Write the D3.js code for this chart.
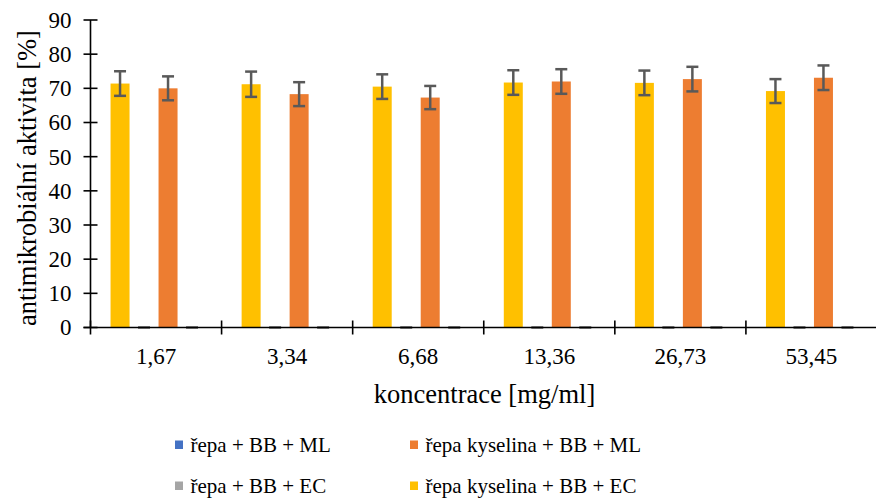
<!DOCTYPE html>
<html>
<head>
<meta charset="utf-8">
<script src="https://cdn.jsdelivr.net/npm/d3@7"></script>
<style>
  html, body { margin: 0; padding: 0; background: #fff; }
  svg text { font-family: "Liberation Serif", "Times New Roman", Times, Tinos, "DejaVu Serif", serif; }
</style>
</head>
<body>
<svg id="chart" width="876" height="499" style="display:block"></svg>
<script>
// Concentrations on the x axis
const categories = ["1,67", "3,34", "6,68", "13,36", "26,73", "53,45"];

// Series names (bar order inside each group)
const seriesNames = [
  "řepa kyselina + BB + EC",
  "řepa + BB + ML",
  "řepa kyselina + BB + ML",
  "řepa + BB + EC"
];

// Legend order (row by row, two columns)
const legendOrder = [
  "řepa + BB + ML",
  "řepa kyselina + BB + ML",
  "řepa + BB + EC",
  "řepa kyselina + BB + EC"
];

// Mean antimicrobial activity [%]
const kyselinaEC = [71.4, 71.2, 70.5, 71.7, 71.6, 69.2];
const repaML     = [0, 0, 0, 0, 0, 0];
const kyselinaML = [70.0, 68.3, 67.3, 72.0, 72.7, 73.1];
const repaEC     = [0, 0, 0, 0, 0, 0];

// Standard deviations
const kyselinaECErr = [3.6, 3.7, 3.6, 3.6, 3.6, 3.5];
const repaMLErr     = [0, 0, 0, 0, 0, 0];
const kyselinaMLErr = [3.5, 3.5, 3.4, 3.6, 3.6, 3.6];
const repaECErr     = [0, 0, 0, 0, 0, 0];

const yTicks = [0, 10, 20, 30, 40, 50, 60, 70, 80, 90];

const colors = {
  "řepa + BB + ML": "#4472C4",
  "řepa kyselina + BB + ML": "#ED7D31",
  "řepa + BB + EC": "#A5A5A5",
  "řepa kyselina + BB + EC": "#FFC000"
};

const values = {
  "řepa kyselina + BB + EC": kyselinaEC,
  "řepa + BB + ML": repaML,
  "řepa kyselina + BB + ML": kyselinaML,
  "řepa + BB + EC": repaEC
};
const errors = {
  "řepa kyselina + BB + EC": kyselinaECErr,
  "řepa + BB + ML": repaMLErr,
  "řepa kyselina + BB + ML": kyselinaMLErr,
  "řepa + BB + EC": repaECErr
};

const svg = d3.select("#chart");

const plotLeft = 90.5, plotRight = 877, plotTop = 20, plotBottom = 327.5;

const x0 = d3.scaleBand().domain(categories).range([plotLeft, plotRight]).padding(0);
const bw = x0.bandwidth();
const slot = 24, barW = 19;
const x1 = d3.scaleBand().domain(seriesNames)
  .range([bw / 2 - slot * 2, bw / 2 + slot * 2]).padding(0);
const y = d3.scaleLinear().domain([0, 90]).range([plotBottom, plotTop]);

// Flattened records
const records = [];
categories.forEach((c, i) => {
  seriesNames.forEach(s => {
    records.push({ cat: c, series: s, value: values[s][i], err: errors[s][i] });
  });
});

// Bars
svg.append("g").selectAll("rect")
  .data(records.filter(d => d.value > 0))
  .join("rect")
  .attr("x", d => x0(d.cat) + x1(d.series) + (slot - barW) / 2)
  .attr("width", barW)
  .attr("y", d => y(d.value))
  .attr("height", d => y(0) - y(d.value))
  .attr("fill", d => colors[d.series]);

// Error bars
const capW = 12;
const eg = svg.append("g").attr("stroke", "#595959").attr("stroke-width", 2.5).attr("fill", "none");
records.forEach(d => {
  const cx = x0(d.cat) + x1(d.series) + slot / 2;
  const lo = y(Math.max(0, d.value - d.err)), hi = y(d.value + d.err);
  if (d.err > 0) {
    eg.append("line").attr("x1", cx).attr("x2", cx).attr("y1", lo).attr("y2", hi);
    eg.append("line").attr("x1", cx - capW / 2).attr("x2", cx + capW / 2).attr("y1", lo).attr("y2", lo);
  }
  eg.append("line").attr("x1", cx - capW / 2).attr("x2", cx + capW / 2).attr("y1", hi).attr("y2", hi);
});

// Y axis
const yAxis = d3.axisLeft(y).tickValues(yTicks).tickSize(0).tickPadding(19);
const yg = svg.append("g").attr("transform", `translate(${plotLeft},0)`).call(yAxis);
yg.select(".domain").remove();
yg.attr("font-family", null);
yg.selectAll("text").attr("font-size", 23).attr("fill", "#000");
svg.append("line").attr("x1", plotLeft).attr("x2", plotLeft).attr("y1", plotTop).attr("y2", plotBottom)
  .attr("stroke", "#000").attr("stroke-width", 1.6);
svg.append("g").selectAll("line").data(yTicks).join("line")
  .attr("x1", plotLeft - 7).attr("x2", plotLeft + 7)
  .attr("y1", d => y(d)).attr("y2", d => y(d))
  .attr("stroke", "#000").attr("stroke-width", 1.6);

// X axis
svg.append("line").attr("x1", plotLeft - 7).attr("x2", plotRight).attr("y1", plotBottom).attr("y2", plotBottom)
  .attr("stroke", "#000").attr("stroke-width", 1.6);
const boundaries = categories.map(c => x0(c)).concat([plotRight]);
svg.append("g").selectAll("line").data(boundaries).join("line")
  .attr("x1", d => d).attr("x2", d => d)
  .attr("y1", plotBottom - 7).attr("y2", plotBottom + 7)
  .attr("stroke", "#000").attr("stroke-width", 1.6);
const xAxis = d3.axisBottom(x0).tickSize(0).tickPadding(20);
const xg = svg.append("g").attr("transform", `translate(0,${plotBottom})`).call(xAxis);
xg.select(".domain").remove();
xg.attr("font-family", null);
xg.selectAll("text").attr("font-size", 23).attr("fill", "#000");

// Axis titles
svg.append("text")
  .attr("x", 484.5).attr("y", 403)
  .attr("text-anchor", "middle").attr("font-size", 26.5)
  .text("koncentrace [mg/ml]");
svg.append("text")
  .attr("transform", "translate(36,178) rotate(-90)")
  .attr("text-anchor", "middle").attr("font-size", 26.5)
  .text("antimikrobiální aktivita [%]");

// Legend
const legCols = [175, 410], legRows = [452, 493];
const lg = svg.append("g");
legendOrder.forEach((s, i) => {
  const cx = legCols[i % 2], by = legRows[Math.floor(i / 2)];
  lg.append("rect").attr("x", cx).attr("y", by - 11.5).attr("width", 8).attr("height", 8.5)
    .attr("fill", colors[s]);
  lg.append("text").attr("x", cx + 15.5).attr("y", by).attr("font-size", 21).text(s);
});
</script>
</body>
</html>
